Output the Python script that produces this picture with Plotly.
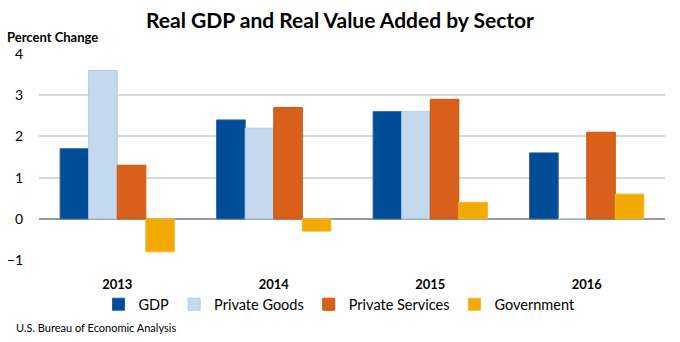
import plotly.graph_objects as go

years = ["2013", "2014", "2015", "2016"]
gdp = [1.7, 2.4, 2.6, 1.6]
private_goods = [3.6, 2.2, 2.6, 0.0]
private_services = [1.3, 2.7, 2.9, 2.1]
government = [-0.8, -0.3, 0.4, 0.6]

series = [
    ("GDP", gdp, "#004C97", "#1F5FA8"),
    ("Private Goods", private_goods, "#C5D9EE", "#B0CBE8"),
    ("Private Services", private_services, "#D9601A", "#C85412"),
    ("Government", government, "#F2A900", "#F5B930"),
]

FONT = "Lato, Open Sans, sans-serif"

fig = go.Figure()
for name, vals, col, edge in series:
    fig.add_trace(go.Bar(
        x=years, y=vals, name=name,
        marker=dict(color=col, line=dict(color=edge, width=1)),
    ))

fig.update_layout(
    width=680, height=342,
    margin=dict(l=39, r=15, t=54, b=82, autoexpand=False),
    paper_bgcolor="white", plot_bgcolor="white",
    barmode="group", bargap=0.27, bargroupgap=0,
    font=dict(family=FONT, color="#000000"),
    title=dict(text="<b>Real GDP and Real Value Added by Sector</b>",
               x=0.5, xanchor="center", y=0.94, yanchor="middle",
               font=dict(size=21, family=FONT, color="#000000")),
    showlegend=True,
    legend=dict(orientation="h", x=0.48, xanchor="center", y=-0.215, yanchor="middle",
                font=dict(size=14.5, family=FONT), traceorder="normal",
                itemwidth=30, bgcolor="rgba(0,0,0,0)"),
    xaxis=dict(showgrid=False, showline=False, zeroline=False, automargin=False,
               tickfont=dict(size=13, family=FONT), ticks="outside", ticklen=12,
               tickcolor="rgba(0,0,0,0)", tickprefix="<b>", ticksuffix="</b>"),
    yaxis=dict(range=[-1, 4], dtick=1, tick0=0, showgrid=True, gridcolor="#D9D9D9",
               gridwidth=1.5, zeroline=True, zerolinecolor="#999999", zerolinewidth=1.5,
               tickfont=dict(size=14, family=FONT), ticks="outside", ticklen=12,
               tickcolor="rgba(0,0,0,0)", showline=False, automargin=False),
    annotations=[
        dict(text="<b>Percent Change</b>", xref="paper", yref="paper",
             x=-34/626, y=1 + 17/206, xanchor="left", yanchor="middle",
             showarrow=False, font=dict(size=13, family=FONT)),
        dict(text="U.S. Bureau of Economic Analysis", xref="paper", yref="paper",
             x=-25/626, y=-67/206, xanchor="left", yanchor="middle",
             showarrow=False, font=dict(size=11, family=FONT)),
    ],
)

fig.write_html("out.html")
